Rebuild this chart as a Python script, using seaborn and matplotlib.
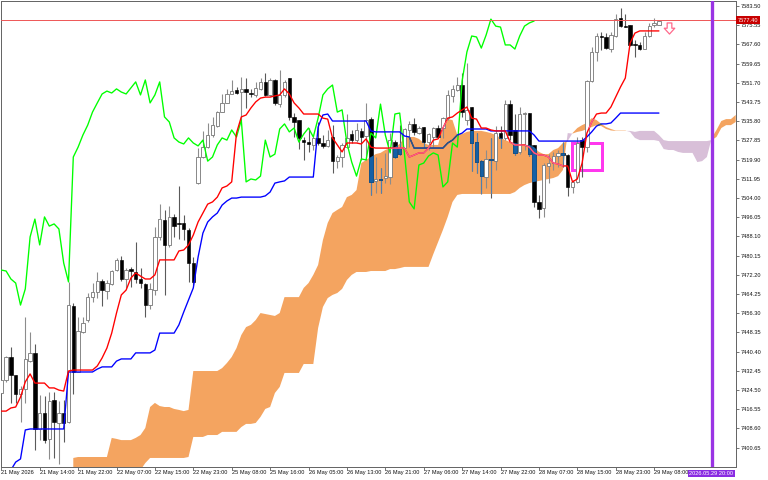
import numpy as np
import pandas as pd
import matplotlib
matplotlib.use("Agg")
import matplotlib.pyplot as plt
from matplotlib.path import Path
from matplotlib.patches import Rectangle
import seaborn as sns

open_px = [
7423.3,7428.7,7438.2,7430.8,7422.9,7425.0,7436.5,7439.9,7408.4,7415.0,
7404.3,7420.4,7410.9,7415.0,7411.3,7459.3,7432.0,7448.6,7453.5,7463.0,
7465.1,7469.7,7465.5,7468.4,7474.2,7478.4,7470.5,7474.6,7473.4,7470.5,
7468.4,7459.7,7465.9,7487.9,7494.9,7484.6,7496.2,7493.7,7493.7,7490.8,
7477.1,7510.2,7521.0,7525.1,7530.1,7533.8,7539.6,7543.4,7547.1,7548.7,
7547.9,7549.2,7547.5,7546.7,7549.2,7552.1,7546.7,7552.9,7542.9,7546.7,
7553.7,7537.6,7536.3,7528.0,7527.2,7526.0,7528.9,7526.8,7525.6,7529.3,
7519.3,7521.0,7525.1,7530.5,7528.0,7531.8,7529.7,7536.7,7511.1,7511.9,
7512.3,7512.7,7527.2,7524.7,7524.7,7532.2,7534.7,7530.9,7533.4,7527.2,
7529.3,7533.0,7533.0,7537.1,7546.3,7548.7,7550.8,7536.3,7541.7,7527.2,
7519.3,7512.7,7520.2,7519.3,7530.9,7528.9,7542.9,7532.2,7523.1,7538.8,
7539.2,7526.0,7502.4,7499.9,7517.3,7518.5,7521.4,7522.7,7521.8,7508.6,
7510.7,7528.0,7525.1,7552.5,7564.5,7571.1,7570.7,7565.7,7571.1,7578.5,
7575.2,7575.7,7567.8,7567.4,7565.7,7571.1,7575.7,7575.7]

close_px = [
7428.7,7438.2,7430.8,7422.9,7425.0,7437.4,7439.9,7408.4,7415.0,7403.8,
7420.0,7411.3,7415.0,7410.9,7459.7,7432.0,7449.0,7452.3,7463.0,7465.1,
7469.7,7465.9,7468.8,7473.8,7478.4,7470.5,7474.2,7473.8,7470.5,7468.8,
7459.7,7466.4,7487.9,7495.3,7484.6,7496.2,7492.4,7493.3,7491.2,7477.1,
7469.3,7521.0,7525.1,7530.1,7534.2,7539.6,7543.4,7547.1,7548.3,7547.5,
7549.2,7547.9,7547.1,7549.6,7552.1,7546.7,7552.9,7543.4,7546.7,7552.1,
7537.6,7535.5,7528.9,7527.2,7526.4,7528.9,7526.8,7525.6,7528.0,7519.3,
7521.0,7526.0,7528.9,7528.0,7532.2,7529.3,7536.3,7510.7,7511.9,7511.5,
7513.1,7528.0,7521.0,7522.2,7532.6,7534.7,7531.4,7533.0,7527.2,7530.5,
7533.0,7529.3,7537.1,7546.7,7549.2,7550.8,7539.6,7540.5,7526.8,7518.9,
7513.1,7520.2,7519.8,7530.9,7528.9,7542.9,7530.1,7522.7,7538.8,7539.2,
7522.2,7502.4,7499.5,7517.7,7518.5,7521.4,7522.7,7521.8,7508.6,7510.7,
7526.8,7525.1,7552.5,7564.5,7571.1,7570.7,7566.1,7571.5,7578.1,7575.2,
7574.8,7567.4,7567.4,7565.7,7571.1,7575.2,7576.5,7577.3]

high_px = [
7428.7,7438.6,7442.3,7430.8,7426.2,7454.8,7448.6,7443.6,7422.5,7422.1,
7423.7,7423.7,7420.0,7420.4,7469.3,7460.6,7454.8,7454.8,7464.7,7468.8,
7473.4,7470.5,7470.1,7474.2,7479.2,7480.0,7475.0,7475.5,7485.8,7475.0,
7468.8,7468.8,7492.0,7501.5,7499.1,7500.7,7497.4,7509.0,7497.0,7491.6,
7479.6,7524.7,7531.8,7535.1,7537.6,7540.0,7547.1,7549.2,7552.9,7550.0,
7554.1,7553.7,7549.2,7552.1,7553.7,7555.8,7553.7,7553.3,7557.0,7552.9,
7553.7,7539.2,7536.3,7529.3,7533.0,7530.1,7535.5,7530.1,7532.2,7534.2,
7521.8,7526.8,7538.8,7532.2,7535.1,7533.0,7543.4,7537.6,7521.0,7516.4,
7522.7,7530.9,7528.0,7534.2,7533.0,7535.9,7537.1,7533.8,7533.4,7530.9,
7533.4,7534.2,7537.6,7548.7,7550.8,7554.1,7555.8,7559.9,7541.7,7530.9,
7519.8,7523.9,7528.9,7533.8,7533.8,7544.6,7544.6,7538.8,7541.7,7539.6,
7539.2,7526.0,7505.3,7518.5,7522.2,7523.1,7523.9,7527.2,7522.2,7511.5,
7529.3,7529.3,7552.9,7566.5,7572.3,7572.8,7572.3,7572.8,7580.2,7582.7,
7580.2,7575.7,7569.4,7568.6,7572.8,7576.5,7578.5,7577.3]

low_px = [
7423.3,7427.9,7419.2,7419.2,7411.3,7419.2,7436.1,7399.7,7403.8,7402.6,
7396.0,7396.4,7393.9,7403.0,7410.9,7422.9,7432.0,7448.1,7452.7,7461.0,
7462.6,7459.3,7462.2,7468.0,7473.8,7469.7,7466.8,7467.2,7468.8,7466.8,
7454.8,7458.1,7463.9,7486.6,7463.9,7483.7,7487.9,7487.1,7486.6,7469.3,
7468.0,7509.8,7520.6,7524.7,7529.3,7533.4,7539.6,7543.4,7547.1,7547.1,
7536.3,7541.3,7545.8,7545.8,7548.7,7546.3,7546.3,7542.5,7541.7,7545.8,
7536.3,7529.3,7524.3,7519.8,7523.1,7523.9,7526.0,7524.7,7525.1,7514.4,
7516.4,7516.9,7524.7,7526.8,7527.2,7519.8,7519.8,7505.3,7506.1,7506.1,
7510.2,7509.8,7520.6,7521.8,7523.9,7525.1,7530.1,7530.5,7525.1,7523.9,
7525.1,7528.9,7528.9,7536.3,7543.8,7548.3,7537.6,7534.2,7515.2,7514.4,
7505.7,7508.2,7504.0,7515.6,7524.7,7528.0,7528.0,7521.8,7522.2,7523.9,
7521.4,7500.3,7495.7,7496.2,7510.2,7515.6,7516.9,7516.9,7504.9,7506.1,
7510.2,7512.7,7523.1,7552.1,7560.7,7565.3,7565.7,7564.5,7570.7,7574.8,
7574.8,7567.0,7562.4,7565.3,7565.7,7570.7,7574.8,7575.7]

tenkan = [
7415.8,7415.8,7417.1,7417.5,7421.6,7427.9,7431.2,7427.4,7427.4,7427.4,
7425.4,7425.4,7424.5,7424.1,7432.4,7432.8,7432.8,7432.8,7432.8,7432.8,
7434.5,7437.8,7441.9,7448.1,7456.4,7463.9,7465.9,7470.9,7473.0,7471.7,
7470.5,7470.5,7472.2,7478.4,7478.4,7478.4,7478.4,7482.1,7482.5,7484.6,
7488.7,7494.1,7497.8,7501.5,7502.4,7504.4,7508.2,7509.0,7510.7,7530.9,
7537.6,7538.4,7541.3,7543.8,7545.4,7545.8,7545.8,7546.3,7546.7,7549.2,
7547.1,7543.4,7541.3,7538.8,7538.8,7538.8,7538.8,7537.1,7536.7,7528.9,
7526.0,7523.1,7526.8,7526.8,7526.8,7526.4,7528.5,7525.1,7524.7,7524.7,
7524.7,7524.7,7524.7,7524.7,7524.7,7521.0,7521.8,7522.7,7522.7,7524.7,
7528.0,7528.5,7533.0,7537.1,7537.6,7539.2,7540.5,7541.7,7537.1,7536.7,
7533.0,7533.0,7532.2,7531.8,7531.8,7531.8,7527.2,7526.0,7526.0,7526.0,
7525.1,7522.7,7521.8,7521.8,7521.0,7518.5,7518.1,7517.3,7517.3,7510.7,
7511.9,7518.5,7530.9,7535.5,7538.8,7539.2,7539.2,7541.7,7545.8,7550.0,
7553.7,7568.2,7572.3,7573.2,7573.2,7573.2,7573.2,7573.2]

kijun = [
7388.1,7388.1,7391.4,7394.7,7396.0,7408.0,7408.4,7408.4,7408.4,7408.4,
7408.4,7408.4,7408.4,7408.4,7432.0,7432.0,7432.0,7432.0,7432.0,7432.0,
7433.2,7434.1,7434.1,7434.1,7436.5,7437.4,7437.4,7437.4,7439.9,7439.9,
7439.9,7439.9,7441.1,7448.1,7448.1,7448.1,7448.1,7451.5,7456.8,7461.8,
7466.8,7479.6,7489.5,7494.1,7496.2,7497.8,7501.1,7502.8,7504.0,7504.0,
7504.4,7504.4,7504.4,7504.4,7504.4,7504.9,7506.5,7510.2,7510.7,7511.1,
7512.7,7512.7,7512.7,7512.7,7512.7,7512.7,7533.4,7538.4,7538.8,7535.9,
7535.9,7535.9,7535.9,7535.9,7535.9,7535.9,7535.9,7531.8,7531.4,7531.4,
7531.4,7531.4,7531.4,7531.4,7529.7,7529.3,7524.7,7524.7,7524.7,7524.7,
7524.7,7524.7,7524.7,7526.8,7528.0,7530.1,7530.9,7532.6,7532.6,7532.6,
7532.6,7532.6,7531.8,7531.8,7531.8,7531.8,7531.8,7531.8,7531.8,7531.8,
7531.8,7530.1,7527.6,7527.6,7527.6,7527.6,7527.6,7527.6,7527.6,7527.6,
7527.6,7527.6,7529.3,7531.4,7533.8,7534.7,7534.7,7535.1,7537.1,7539.2,
7539.2,7539.2,7539.2,7539.2,7539.2,7539.2,7539.2,7539.2]

# The lagging line is the close plotted earlier on the chart
lag_bars = 26
chikou = close_px[lag_bars:]

# Cloud, first bar is number 15
cloud_start = 15
span_a = [
7396.4,7396.8,7396.8,7396.8,7396.8,7396.8,7396.8,7396.8,7404.7,7404.3,
7403.8,7403.8,7403.8,7404.7,7405.9,7408.8,7417.5,7419.2,7417.9,7417.5,
7417.5,7416.7,7416.3,7415.8,7416.3,7432.4,7432.4,7432.4,7432.4,7432.4,
7432.4,7433.6,7435.7,7438.2,7441.9,7447.3,7450.6,7451.5,7453.5,7456.4,
7456.0,7455.6,7455.2,7456.4,7463.0,7463.0,7463.0,7463.0,7466.8,7468.8,
7472.2,7476.3,7486.6,7493.7,7497.8,7499.1,7500.3,7504.4,7505.3,7507.3,
7518.5,7519.8,7521.0,7522.2,7522.7,7523.9,7524.7,7525.1,7526.4,7528.9,
7529.3,7529.3,7528.5,7526.8,7526.0,7526.0,7526.0,7533.8,7536.7,7536.3,
7530.1,7530.5,7531.4,7531.8,7531.8,7531.8,7531.4,7530.9,7530.1,7528.9,
7528.0,7527.2,7526.8,7526.4,7526.0,7526.0,7525.1,7523.1,7522.2,7522.2,
7523.9,7524.7,7526.8,7527.6,7530.9,7533.0,7534.2,7535.1,7537.1,7536.3,
7534.7,7533.4,7532.6,7531.95,7531.95,7531.95,7531.4,7528.9,7528.0,7528.0,
7528.0,7528.0,7527.6,7524.3,7523.9,7523.9,7523.1,7522.7,7522.7,7522.7,
7518.9,7519.3,7521.0,7528.9,7532.2,7535.9,7536.7,7536.7,7538.4]

span_b = [
7389.4,7389.4,7389.4,7389.4,7389.4,7389.4,7389.4,7389.4,7389.4,7389.4,
7389.4,7389.4,7389.4,7389.4,7391.4,7394.3,7396.4,7396.4,7396.4,7396.4,
7396.4,7396.4,7396.4,7396.4,7396.8,7405.1,7405.1,7405.1,7405.9,7405.9,
7405.9,7407.2,7407.2,7407.2,7407.2,7409.2,7410.5,7410.5,7410.9,7413.4,
7416.7,7417.5,7423.3,7425.8,7431.6,7431.6,7431.6,7431.6,7435.3,7435.3,
7435.3,7450.2,7458.9,7462.6,7463.9,7464.7,7466.4,7470.1,7472.2,7473.4,
7473.4,7473.4,7473.8,7473.8,7473.8,7473.8,7474.6,7474.6,7475.0,7475.5,
7475.5,7475.5,7475.5,7475.5,7475.5,7480.8,7485.8,7490.8,7496.2,7502.4,
7505.3,7505.7,7505.7,7505.7,7505.7,7505.7,7505.7,7505.7,7505.7,7505.7,
7505.7,7505.7,7506.5,7508.2,7509.4,7510.2,7510.7,7511.1,7511.5,7511.9,
7512.3,7513.1,7515.6,7530.9,7530.7,7531.4,7531.8,7532.6,7533.4,7534.2,
7533.8,7532.6,7532.0,7531.8,7531.8,7531.8,7531.8,7531.4,7531.8,7531.8,
7531.8,7531.8,7530.1,7528.0,7527.6,7527.6,7527.6,7527.6,7527.6,7527.6,
7527.6,7527.6,7527.6,7528.0,7529.3,7533.0,7534.2,7534.2,7535.5]

y_ticks = [7583.50,7575.55,7567.60,7559.65,7551.70,7543.75,7535.80,7527.85,
           7519.90,7511.95,7504.00,7496.05,7488.10,7480.15,7472.20,7464.25,
           7456.30,7448.35,7440.40,7432.45,7424.50,7416.55,7408.60,7400.65]
x_labels = ["21 May 2026","21 May 14:00","21 May 22:00","22 May 07:00",
            "22 May 15:00","22 May 23:00","25 May 08:00","25 May 16:00",
            "26 May 05:00","26 May 13:00","26 May 21:00","27 May 06:00",
            "27 May 14:00","27 May 22:00","28 May 07:00","28 May 15:00",
            "28 May 23:00","29 May 08:00"]
x_tick_step = 8
price_line = 7577.7
price_label = "7577.40"
vline_bar = 148
vline_label = "2026.05.29 20:00"
arrow_bar, arrow_price = 139.1, 7574.4
box_bars = (118.9, 125.1)
box_prices = (7515.6, 7526.6)
x_limits = (0, 153.06)
y_limits = (7392.66, 7585.59)

sns.set_style("white")
plt.rcParams["font.family"] = ["Liberation Sans", "DejaVu Sans"]

fig = plt.figure(figsize=(7.68, 4.8), dpi=100, facecolor="white")
ax = fig.add_axes([1.3/768, 13/480, (736-1.3)/768, 466/480])
ax.set_xlim(*x_limits)
ax.set_ylim(*y_limits)

PX = 0.72
bars = pd.DataFrame({"bar": np.arange(len(close_px)), "open": open_px, "high": high_px,
                     "low": low_px, "close": close_px})
bars["up"] = bars["close"] >= bars["open"]
bars["top"] = bars[["open", "close"]].max(axis=1)
bars["bot"] = bars[["open", "close"]].min(axis=1)
ups, downs = bars[bars.up], bars[~bars.up]

# cloud
cx = np.arange(cloud_start, cloud_start + len(span_a))
a, b = np.array(span_a), np.array(span_b)
orange = ax.fill_between(cx, a, b, where=a >= b, interpolate=True, color="#F4A460", lw=0, zorder=1)
ax.fill_between(cx, a, b, where=a <= b, interpolate=True, color="#D8BFD8", lw=0, zorder=1)
cloud_path = Path.make_compound_path(*orange.get_paths())

def clip_cloud(artist):
    artist.set_clip_path(cloud_path, ax.transData)

ax.add_patch(Rectangle((box_bars[0], box_prices[0]), box_bars[1]-box_bars[0],
                       box_prices[1]-box_prices[0], fill=False, ec="#FF38EE",
                       lw=3*PX, zorder=2, joinstyle="miter"))

# candles
W = 0.68
ax.vlines(ups.bar, ups.low, ups.high, color="#8C8C8C", lw=1.1*PX, zorder=3)
ax.vlines(downs.bar, downs.low, downs.high, color="#5A5A5A", lw=1.1*PX, zorder=3)
clip_cloud(ax.vlines(downs.bar, downs.low, downs.high, color="#4F7FAF", lw=1.1*PX, zorder=3.1))
ax.bar(ups.bar, ups.top-ups.bot, W, bottom=ups.bot, facecolor="white", edgecolor="#7F7F7F",
       lw=0.9*PX, zorder=3.2)
ax.bar(downs.bar, downs.top-downs.bot, W, bottom=downs.bot, facecolor="black", edgecolor="black",
       lw=0.6*PX, zorder=3.2)
for r in ax.bar(downs.bar, downs.top-downs.bot, W, bottom=downs.bot, facecolor="#1460A6",
                edgecolor="#1460A6", lw=0.6*PX, zorder=3.3):
    clip_cloud(r)

# indicator lines
x_all = bars["bar"].values
lines = pd.DataFrame({"bar": x_all, "tenkan": tenkan, "kijun": kijun})
chik = pd.DataFrame({"bar": np.arange(len(chikou)), "chikou": chikou})
LW = 1.35*PX
sns.lineplot(data=chik, x="bar", y="chikou", color="#00FF00", lw=LW, ax=ax, zorder=4, errorbar=None)
sns.lineplot(data=lines, x="bar", y="kijun", color="#0000FF", lw=LW, ax=ax, zorder=4.1, errorbar=None)
sns.lineplot(data=lines, x="bar", y="kijun", color="#2F5F70", lw=LW, ax=ax, zorder=4.2, errorbar=None)
clip_cloud(ax.lines[-1])
sns.lineplot(data=lines, x="bar", y="tenkan", color="#FF0000", lw=LW, ax=ax, zorder=4.3, errorbar=None)
sns.lineplot(data=lines, x="bar", y="tenkan", color="#F8608F", lw=LW, ax=ax, zorder=4.4, errorbar=None)
clip_cloud(ax.lines[-1])

# price line, time line, arrow
ax.axhline(price_line, color="#EE5A5A", lw=1.0*PX, zorder=5)
ax.axvline(vline_bar, color="#9A34E4", lw=3.3*PX, zorder=5)
arrow = Path([(-0.42,1),(0.42,1),(0.42,0.05),(0.95,0.05),(0,-1),(-0.95,0.05),(-0.42,0.05),(-0.42,1)], closed=True)
ax.scatter([arrow_bar], [arrow_price], marker=arrow, s=64, facecolor="white",
           edgecolor="#FF6A8C", lw=0.9, zorder=6)

# axes
ax.set_xlabel(""); ax.set_ylabel("")
ax.grid(False)
for s in ax.spines.values():
    s.set_color("#666666"); s.set_linewidth(1.0*PX)
ax.yaxis.tick_right()
ax.set_yticks(y_ticks)
ax.set_yticklabels([f"{v:.2f}" for v in y_ticks])
ax.set_xticks(np.arange(len(x_labels))*x_tick_step)
ax.set_xticklabels(x_labels, ha="left")
ax.tick_params(axis="y", which="major", right=True, length=3*PX, width=0.8*PX, color="#555555",
               labelsize=4.1, labelcolor="#111111", pad=1.0)
ax.tick_params(axis="x", which="major", bottom=True, length=3*PX, width=0.8*PX, color="#555555",
               labelsize=4.1, labelcolor="#111111", pad=0.2)

ax.text(1.0025, price_line, price_label, transform=ax.get_yaxis_transform(), ha="left", va="center",
        fontsize=4.1, color="white", zorder=10, clip_on=False,
        bbox=dict(facecolor="#C80000", edgecolor="none", pad=1.0))
ax.text(vline_bar-0.1, -0.0138, vline_label, transform=ax.get_xaxis_transform(), ha="center", va="center",
        fontsize=4.1, color="white", zorder=10, clip_on=False,
        bbox=dict(facecolor="#8A2BE2", edgecolor="none", pad=1.0))

fig.savefig("out.png", dpi=100, facecolor="white")
